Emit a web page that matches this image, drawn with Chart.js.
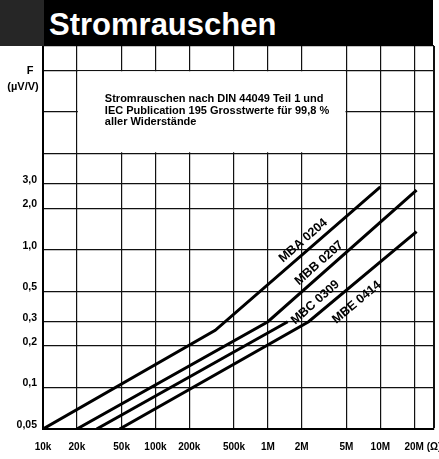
<!DOCTYPE html>
<html>
<head>
<meta charset="utf-8">
<title>Stromrauschen</title>
<script src="https://cdn.jsdelivr.net/npm/chart.js@4.4.1/dist/chart.umd.min.js"></script>
<style>
    html, body { margin: 0; padding: 0; background: #fff; }
    #wrap { position: relative; width: 439px; height: 459px; overflow: hidden; }
    #chart { position: absolute; left: 0; top: 0; }
    /* black title bar of the datasheet */
    #titlebar {
        position: absolute; left: 0; top: 0; width: 433px; height: 46px;
        background: linear-gradient(to right, #262626 0, #262626 44px, #000 44px);
        z-index: 2;
    }
    #titlebar span {
        position: absolute; left: 49px; top: 0;
        color: #fff; font: bold 31px "Liberation Sans", Arial, sans-serif;
        line-height: 50px;
    }
</style>
</head>
<body>
<div id="wrap">
    <div id="titlebar"><span>Stromrauschen</span></div>
    <canvas id="chart" width="439" height="459"></canvas>
</div>
<script>
// --- axes ---
const xTickValues = [1e4, 2e4, 5e4, 1e5, 2e5, 5e5, 1e6, 2e6, 5e6, 1e7, 2e7, 3e7];
const xTickLabels = ['10k', '20k', '50k', '100k', '200k', '500k', '1M', '2M', '5M', '10M', '20M', '(Ω)'];
const yTickValues = [0.05, 0.1, 0.2, 0.3, 0.5, 1, 2, 3, 5, 10, 20, 30];
const yTickLabels = ['0,05', '0,1', '0,2', '0,3', '0,5', '1,0', '2,0', '3,0', '', '', '', ''];

// --- curves: resistance (Ohm) vs noise F (µV/V) ---
const seriesNames = ['MBA 0204', 'MBB 0207', 'MBC 0309', 'MBE 0414'];
const mbaR = [1e4, 3.4e5, 1e7];
const mbaF = [0.05, 0.26, 2.85];
const mbbR = [2e4, 1e6, 2.1e7];
const mbbF = [0.05, 0.3, 2.7];
const mbcR = [3e4, 1.5e6];
const mbcF = [0.05, 0.3];
const mbeR = [4.8e4, 2.3e6, 2.1e7];
const mbeF = [0.05, 0.3, 1.35];

const noteLines = [
    'Stromrauschen nach DIN 44049 Teil 1 und',
    'IEC Publication 195 Grosstwerte für 99,8 %',
    'aller Widerstände'
];

const FONT = '"Liberation Sans", Arial, sans-serif';

const toPoints = (xs, ys) => xs.map((x, i) => ({ x, y: ys[i] }));

// Extra drawing: note box, unit label and the rotated curve names
const sheetPlugin = {
    id: 'sheet',
    beforeDatasetsDraw(chart) {
        const { ctx, scales: { x, y } } = chart;
        // white panel over the grid (between 20k..5M and 5..20)
        const left = x.getPixelForValue(2e4) + 1;
        const right = x.getPixelForValue(5e6) - 1;
        const top = y.getPixelForValue(20) + 1;
        const bottom = y.getPixelForValue(5) - 1;
        ctx.save();
        ctx.fillStyle = '#fff';
        ctx.fillRect(left, top, right - left, bottom - top);
        ctx.fillStyle = '#000';
        ctx.font = `bold 11px ${FONT}`;
        ctx.textBaseline = 'middle';
        ctx.textAlign = 'left';
        noteLines.forEach((line, i) => {
            ctx.fillText(line, left + 27, top + 28 + i * 11.5);
        });
        ctx.restore();
    },
    afterDraw(chart) {
        const { ctx, scales: { x, y } } = chart;
        ctx.save();
        ctx.fillStyle = '#000';
        ctx.textAlign = 'center';
        ctx.textBaseline = 'middle';
        ctx.font = `bold 11px ${FONT}`;
        ctx.fillText('F', 30, 71);
        ctx.fillText('(µV/V)', 23, 87);

        // curve names, turned along the steep part of a curve;
        // off = distance from that curve in px (negative = above it)
        const anchors = [
            { ds: 0, along: 0, at: 2.36e6, off: -10 },
            { ds: 1, along: 1, at: 3.27e6, off: -10 },
            { ds: 2, along: 1, at: 2.1e6, off: 17 },
            { ds: 3, along: 3, at: 5.0e6, off: 16 }
        ];
        ctx.font = `bold 12.5px ${FONT}`;
        anchors.forEach(a => {
            const pts = chart.getDatasetMeta(a.along).data;
            const p1 = pts[pts.length - 2];
            const p2 = pts[pts.length - 1];
            const angle = Math.atan2(p2.y - p1.y, p2.x - p1.x);
            const px = x.getPixelForValue(a.at);
            const py = p1.y + (p2.y - p1.y) * (px - p1.x) / (p2.x - p1.x);
            ctx.save();
            ctx.translate(px, py);
            ctx.rotate(angle);
            ctx.fillText(seriesNames[a.ds], 0, a.off);
            ctx.restore();
        });
        ctx.restore();
    }
};

const lineStyle = {
    borderColor: '#000',
    borderWidth: 3,
    pointRadius: 0,
    tension: 0,
    fill: false
};

const ctx = document.getElementById('chart').getContext('2d');
const chart = new Chart(ctx, {
    type: 'line',
    data: {
        datasets: [
            { label: seriesNames[0], data: toPoints(mbaR, mbaF), ...lineStyle },
            { label: seriesNames[1], data: toPoints(mbbR, mbbF), ...lineStyle },
            { label: seriesNames[2], data: toPoints(mbcR, mbcF), ...lineStyle },
            { label: seriesNames[3], data: toPoints(mbeR, mbeF), ...lineStyle }
        ]
    },
    options: {
        responsive: false,
        animation: false,
        devicePixelRatio: 1,
        layout: { padding: { left: 0, right: 5, top: 46, bottom: 0 } },
        plugins: {
            legend: { display: false },
            tooltip: { enabled: false }
        },
        scales: {
            x: {
                type: 'logarithmic',
                min: 1e4,
                max: 3e7,
                afterBuildTicks: s => { s.ticks = xTickValues.map(v => ({ value: v })); },
                afterFit: s => { s.height = 30; s.paddingLeft = 0; s.paddingRight = 0; },
                ticks: {
                    autoSkip: false,
                    maxRotation: 0,
                    padding: 12,
                    color: '#000',
                    font: { family: FONT, size: 10, weight: 'bold' },
                    callback: (v, i) => xTickLabels[i]
                },
                grid: {
                    color: '#111',
                    lineWidth: c => (c.tick && c.tick.value === 3e7 ? 2 : 1.2),
                    drawTicks: false
                },
                border: { display: true, color: '#000', width: 2 }
            },
            y: {
                type: 'logarithmic',
                min: 0.05,
                max: 30,
                afterBuildTicks: s => { s.ticks = yTickValues.map(v => ({ value: v })); },
                afterFit: s => { s.width = 43; s.paddingTop = 0; s.paddingBottom = 0; },
                ticks: {
                    autoSkip: false,
                    padding: 6,
                    labelOffset: -4,
                    color: '#000',
                    font: { family: FONT, size: 10.5, weight: 'bold' },
                    callback: (v, i) => yTickLabels[i]
                },
                grid: { color: '#111', lineWidth: 1.2, drawTicks: false },
                border: { display: true, color: '#000', width: 2 }
            }
        }
    },
    plugins: [sheetPlugin]
});
</script>
</body>
</html>
